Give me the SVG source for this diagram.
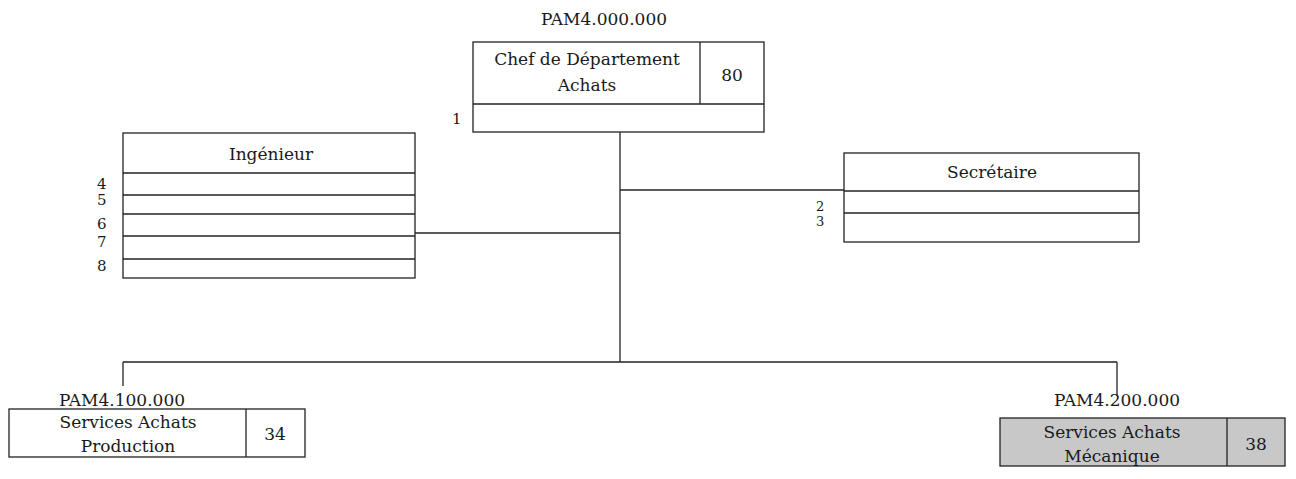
<svg xmlns="http://www.w3.org/2000/svg" width="1296" height="479" viewBox="0 0 1296 479">
<style>
text{font-family:"DejaVu Serif","Liberation Serif","Times New Roman",Times,serif;font-size:17px;fill:#1a1a1a}
.c{text-anchor:middle}
.b{fill:#fff;stroke:#222;stroke-width:1.3}
.g{fill:#c8c8c8;stroke:#222;stroke-width:1.3}
.l{stroke:#222;stroke-width:1.3;fill:none}
.n{font-size:15px}
.s{font-size:13px}
</style>
<rect width="1296" height="479" fill="#fff"/>
<g id="connectors">
<line class="l" x1="620" y1="132" x2="620" y2="362"/>
<line class="l" x1="415" y1="233" x2="620" y2="233"/>
<line class="l" x1="620" y1="190" x2="844" y2="190"/>
<line class="l" x1="123" y1="362" x2="1117" y2="362"/>
<line class="l" x1="123" y1="362" x2="123" y2="386"/>
<line class="l" x1="1117" y1="362" x2="1117" y2="396"/>
</g>
<g id="chef">
<text class="c" x="604" y="25">PAM4.000.000</text>
<rect class="b" x="473" y="42" width="291" height="90"/>
<line class="l" x1="473" y1="104" x2="764" y2="104"/>
<line class="l" x1="700" y1="42" x2="700" y2="104"/>
<text class="c" x="587" y="65">Chef de Département</text>
<text class="c" x="587" y="91">Achats</text>
<text class="c" x="732" y="81">80</text>
<text class="n" x="452" y="124">1</text>
</g>
<g id="ingenieur">
<rect class="b" x="123" y="133" width="292" height="145"/>
<line class="l" x1="123" y1="173" x2="415" y2="173"/>
<line class="l" x1="123" y1="195" x2="415" y2="195"/>
<line class="l" x1="123" y1="214" x2="415" y2="214"/>
<line class="l" x1="123" y1="236" x2="415" y2="236"/>
<line class="l" x1="123" y1="259" x2="415" y2="259"/>
<text class="c" x="271" y="160">Ingénieur</text>
<text class="n" x="97" y="189">4</text>
<text class="n" x="97" y="205">5</text>
<text class="n" x="97" y="229">6</text>
<text class="n" x="97" y="247">7</text>
<text class="n" x="97" y="271">8</text>
</g>
<g id="secretaire">
<rect class="b" x="844" y="153" width="295" height="89"/>
<line class="l" x1="844" y1="191" x2="1139" y2="191"/>
<line class="l" x1="844" y1="213" x2="1139" y2="213"/>
<text class="c" x="992" y="178">Secrétaire</text>
<text class="s" x="816" y="211">2</text>
<text class="s" x="816" y="226">3</text>
</g>
<g id="production">
<text class="c" x="122" y="406">PAM4.100.000</text>
<rect class="b" x="9" y="409" width="296" height="48"/>
<line class="l" x1="246" y1="409" x2="246" y2="457"/>
<text class="c" x="128" y="428">Services Achats</text>
<text class="c" x="128" y="452">Production</text>
<text class="c" x="275" y="440">34</text>
</g>
<g id="mecanique">
<text class="c" x="1117" y="406">PAM4.200.000</text>
<rect class="g" x="1000" y="418" width="285" height="48"/>
<line class="l" x1="1227" y1="418" x2="1227" y2="466"/>
<text class="c" x="1112" y="438">Services Achats</text>
<text class="c" x="1112" y="462">Mécanique</text>
<text class="c" x="1256" y="450">38</text>
</g>
</svg>
